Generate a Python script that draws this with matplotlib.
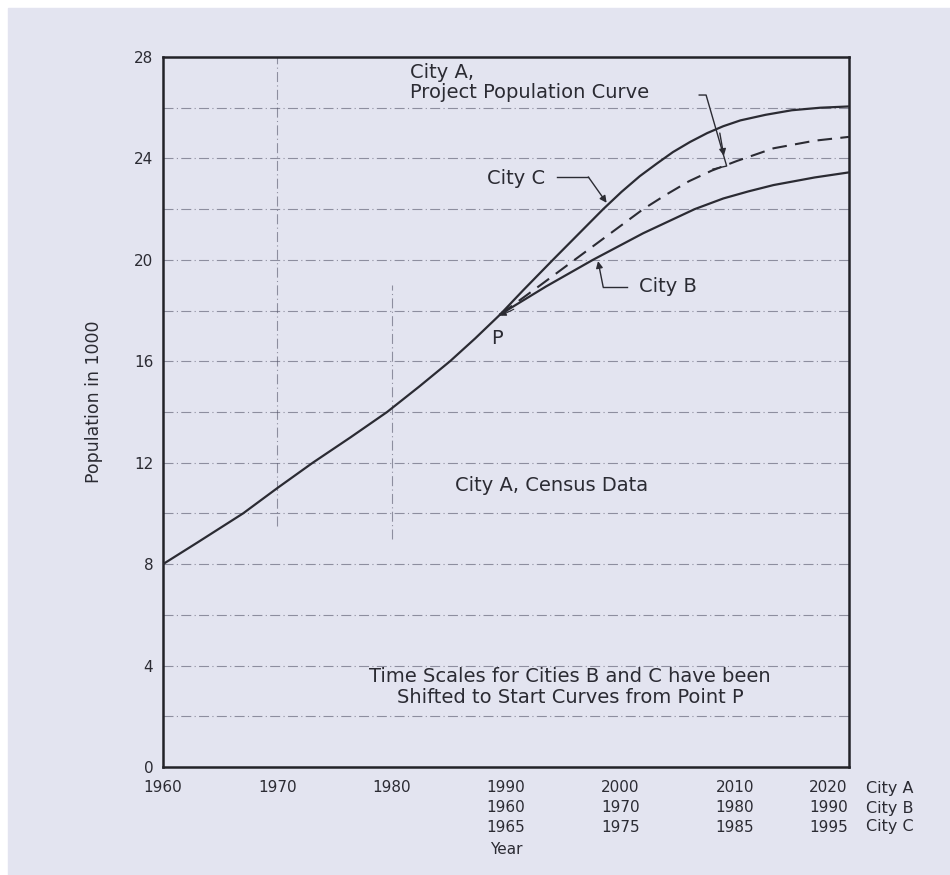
import matplotlib.pyplot as plt
from matplotlib.patches import Rectangle

# values (population in 1000)
census_years = [1960, 1963, 1967, 1970, 1973.1, 1976.4, 1979.6, 1982.4, 1985.1, 1987.3, 1989.5]
census_pop = [8.0, 8.85, 10.0, 11.0, 12.0, 13.0, 14.0, 15.0, 16.0, 16.9, 17.85]

city_c_years = [1989.5, 1991.5, 1994.1, 1996.3, 1998.5, 2000.1, 2001.7, 2003.2, 2004.6,
                2006.1, 2007.6, 2009, 2010.5, 2012.7, 2015, 2017.5, 2020]
city_c_pop = [17.85, 18.8, 20.0, 21.0, 22.0, 22.68, 23.3, 23.8, 24.25,
              24.65, 25.0, 25.27, 25.5, 25.72, 25.9, 26.0, 26.05]

proj_years = [1989.5, 1993, 1996, 1999, 2002, 2004, 2006, 2008, 2010.2, 2013.4, 2017, 2020]
proj_pop = [17.85, 19.0, 20.0, 21.0, 22.0, 22.57, 23.1, 23.52, 23.9, 24.4, 24.7, 24.85]

city_b_years = [1989.5, 1993.5, 1997.6, 2002, 2006.5, 2009, 2011.2, 2013.4, 2017, 2020]
city_b_pop = [17.85, 18.95, 20.0, 21.05, 22.0, 22.42, 22.7, 22.95, 23.25, 23.45]

ticks_a = [1960, 1970, 1980, 1990, 2000, 2010, 2020]
ticks_b = ['', '', '', '1960', '1970', '1980', '1990']
ticks_c = ['', '', '', '1965', '1975', '1985', '1995']
row_names = ['City A', 'City B', 'City C']
grid_levels = list(range(2, 28, 2))

bg = '#e3e4f0'
ink = '#2b2b33'
grid_col = '#55556a'

fig = plt.figure(figsize=(9.5, 8.75), dpi=100, facecolor='white')
fig.patches.append(Rectangle((8 / 950, 0), 1, 1 - 8 / 875, transform=fig.transFigure,
                             color=bg, zorder=-10))
ax = fig.add_axes([163 / 950, 1 - 767 / 875, 686 / 950, 710 / 875])
ax.set_facecolor(bg)

dashdot = (0, (9, 3, 1, 3))
for y in grid_levels:
    ax.axhline(y, color=grid_col, lw=0.8, alpha=0.6, ls=dashdot, zorder=1)
ax.vlines(1970, 9.5, 28, color=grid_col, lw=0.8, alpha=0.6, ls=dashdot, zorder=1)
ax.vlines(1980, 9.0, 19.0, color=grid_col, lw=0.8, alpha=0.6, ls=dashdot, zorder=1)

ax.plot(census_years, census_pop, color=ink, lw=1.6, zorder=3)
ax.plot(city_c_years, city_c_pop, color=ink, lw=1.6, zorder=3)
ax.plot(city_b_years, city_b_pop, color=ink, lw=1.6, zorder=3)
ax.plot(proj_years, proj_pop, color=ink, lw=1.5, ls=(0, (7, 4)), zorder=3)

ax.set_xlim(1960, 2020)
ax.set_ylim(0, 28)
ax.set_yticks(range(0, 29, 4))
ax.set_xticks(ticks_a)
ax.set_xticklabels([])
ax.tick_params(length=0, labelsize=11, labelcolor=ink, pad=7)
for s in ax.spines.values():
    s.set_linewidth(1.8)
    s.set_color('#222228')

ax.set_ylabel('Population in 1000', fontsize=12.5, color=ink)
ax.yaxis.set_label_coords(-60 / 686, (767 - 402) / 710)

# three rows of year labels under the axis
xt = ax.get_xaxis_transform()
rows_y = [-21 / 710, -41 / 710, -60 / 710]
rows = [[str(t) for t in ticks_a], ticks_b, ticks_c]
for ry, labels, name in zip(rows_y, rows, row_names):
    for t, lab in zip(ticks_a, labels):
        if not lab:
            continue
        if t == ticks_a[-1]:
            ax.annotate(lab, (t, ry), xycoords=xt, xytext=(-1, 0), textcoords='offset points',
                        ha='right', va='center', fontsize=11, color=ink, annotation_clip=False)
        else:
            ax.text(t, ry, lab, transform=xt, ha='center', va='center', fontsize=11, color=ink)
    ax.annotate(name, (ticks_a[-1], ry), xycoords=xt, xytext=(12, 0), textcoords='offset points',
                ha='left', va='center', fontsize=11.5, color=ink, annotation_clip=False)
ax.text(1990, -83 / 710, 'Year', transform=xt, ha='center', va='center', fontsize=11, color=ink)

tk = dict(fontsize=14, color=ink)
arrow = dict(arrowstyle='-|>', color=ink, lw=1.0, mutation_scale=10, shrinkA=0, shrinkB=0)

ax.text(1981.6, 27.0, 'City A,\nProject Population Curve', ha='left', va='center',
        linespacing=1.1, **tk)
ax.plot([2006.9, 2007.5, 2009.3, 2008.1], [26.5, 26.5, 23.7, 23.58], color=ink, lw=1.0)
ax.annotate('', xy=(2009.05, 24.1), xytext=(2008.7, 25.0), arrowprops=arrow)

ax.text(1988.35, 23.2, 'City C', ha='left', va='center', **tk)
ax.plot([1994.5, 1997.2], [23.27, 23.27], color=ink, lw=1.0)
ax.annotate('', xy=(1998.8, 22.25), xytext=(1997.2, 23.27), arrowprops=arrow)

ax.text(2001.6, 18.93, 'City B', ha='left', va='center', **tk)
ax.plot([2000.6, 1998.5], [18.93, 18.93], color=ink, lw=1.0)
ax.annotate('', xy=(1998.05, 19.95), xytext=(1998.5, 18.93), arrowprops=arrow)

ax.text(1989.2, 16.9, 'P', ha='center', va='center', **tk)
ax.annotate('', xy=(1989.3, 17.75), xytext=(1990.9, 18.1),
            arrowprops=dict(arrowstyle='-|>', color=ink, lw=0.8, mutation_scale=8))

ax.text(1985.5, 11.1, 'City A, Census Data', ha='left', va='center', **tk)
ax.text(1995.6, 3.15, 'Time Scales for Cities B and C have been\nShifted to Start Curves from Point P',
        ha='center', va='center', linespacing=1.1, **tk)

fig.savefig('out.png', dpi=100, facecolor=fig.get_facecolor())
